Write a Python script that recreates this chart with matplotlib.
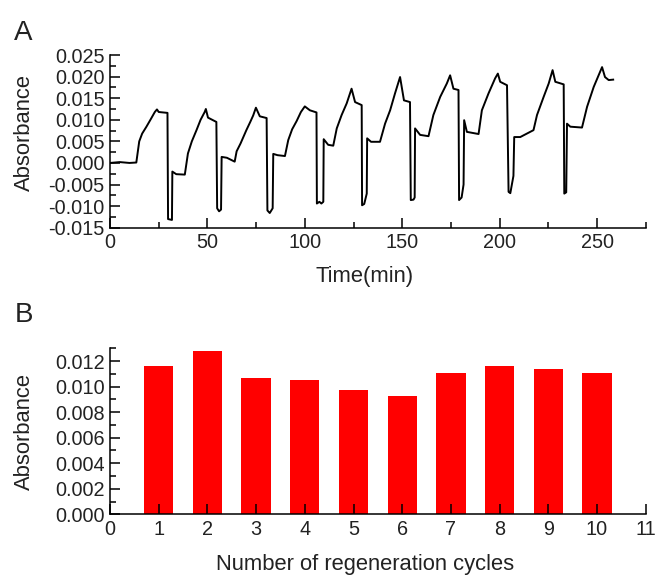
import matplotlib
matplotlib.use("Agg")
import matplotlib.pyplot as plt
from matplotlib.ticker import MultipleLocator, FormatStrFormatter

plt.rcParams['font.family'] = ['Liberation Sans', 'DejaVu Sans']

# Panel A: absorbance trace over time (min)
time_min = [0, 5, 10, 13.5,
            15, 16.5, 18.7, 21, 23, 24.1, 25, 29.5,
            29.8, 31.8, 32, 34, 38.4,
            40, 42, 44.4, 46.5, 48.6, 49.2, 50.3, 54.6,
            55, 56, 57, 57.3, 60, 64,
            65, 67, 70, 72, 73.5, 74.9, 76.9, 80.4,
            80.8, 82, 83.5, 83.8, 86, 89.8,
            91.5, 93.5, 95.8, 98, 100, 102.6, 106,
            106.2, 107.5, 108.5, 109.5, 109.7, 112, 114.6,
            116.4, 118.9, 121.5, 124, 125.8, 129.2,
            129.4, 130.5, 131.8, 132, 134, 138.6,
            141.2, 143.8, 146.3, 148.9, 150.9, 154,
            154.4, 155.8, 156.4, 156.6, 159.2, 163.5,
            166, 169.5, 172.9, 174.6, 176.3, 178.9,
            179.2, 180.5, 181.5, 181.8, 183.2, 189.2,
            190.9, 194.3, 197.7, 199.1, 200.3, 203.8,
            204.6, 205.5, 207.1, 207.5, 210.6, 215.7, 217.4,
            219.2, 222.6, 225.2, 227.2, 228.6, 232.9,
            233.2, 234.2, 234.6, 236.3, 242.3,
            244.9, 248.3, 252.6, 254.1, 256, 258.3]
absorbance_a = [0, 0.0002, 0, 0.0001,
                0.005, 0.0068, 0.0084, 0.0102, 0.0118, 0.0124, 0.0118, 0.0116,
                -0.0130, -0.0132, -0.0020, -0.0026, -0.0027,
                0.0022, 0.0050, 0.0076, 0.0100, 0.0118, 0.0125, 0.0105, 0.0095,
                -0.0105, -0.0112, -0.0108, 0.0014, 0.0012, 0.0003,
                0.0027, 0.0045, 0.0076, 0.0095, 0.0110, 0.0128, 0.0108, 0.0104,
                -0.0110, -0.0116, -0.0105, 0.0021, 0.0018, 0.0016,
                0.0053, 0.0078, 0.0097, 0.0118, 0.0131, 0.0122, 0.0117,
                -0.0094, -0.0090, -0.0094, -0.0090, 0.0055, 0.0042, 0.0040,
                0.0080, 0.0111, 0.0138, 0.0172, 0.0141, 0.0134,
                -0.0098, -0.0095, -0.0071, 0.0057, 0.0049, 0.0049,
                0.0091, 0.0122, 0.0161, 0.0199, 0.0145, 0.0141,
                -0.0086, -0.0085, -0.0080, 0.0080, 0.0065, 0.0062,
                0.0111, 0.0153, 0.0184, 0.0203, 0.0172, 0.0169,
                -0.0086, -0.0080, -0.0050, 0.0099, 0.0072, 0.0067,
                0.0122, 0.0161, 0.0196, 0.0207, 0.0188, 0.0180,
                -0.0067, -0.0070, -0.0030, 0.0060, 0.0060, 0.0072, 0.0076,
                0.0111, 0.0153, 0.0184, 0.0215, 0.0188, 0.0182,
                -0.0071, -0.0068, 0.0091, 0.0084, 0.0082,
                0.0130, 0.0176, 0.0222, 0.0199, 0.0192, 0.0193]

# Panel B: absorbance per regeneration cycle
cycles = [1, 2, 3, 4, 5, 6, 7, 8, 9, 10]
absorbance_b = [0.0116, 0.0128, 0.0107, 0.0105, 0.0097, 0.0093, 0.0111, 0.0116, 0.0114, 0.0111]

fig = plt.figure(figsize=(6.56, 5.75), dpi=100)
axA = fig.add_axes([0.1677, 0.604, 0.8166, 0.3003])
axB = fig.add_axes([0.1677, 0.1056, 0.8166, 0.2887])

tick_fs = 14.3
label_fs = 15.8

for ax in (axA, axB):
    for s in ('top', 'right'):
        ax.spines[s].set_visible(False)
    for s in ('left', 'bottom'):
        ax.spines[s].set_linewidth(1.1)
    ax.tick_params(which='both', direction='in', width=1.1, labelsize=tick_fs,
                   labelcolor='#222222')
    ax.tick_params(which='major', length=7, pad=4)
    ax.tick_params(which='minor', length=4.5)

# Panel A
axA.plot(time_min, absorbance_a, color='black', lw=1.4)
axA.set_xlim(0, 275)
axA.set_ylim(-0.015, 0.025)
axA.xaxis.set_major_locator(MultipleLocator(50))
axA.xaxis.set_minor_locator(MultipleLocator(25))
axA.yaxis.set_major_locator(MultipleLocator(0.005))
axA.yaxis.set_minor_locator(MultipleLocator(0.0025))
axA.yaxis.set_major_formatter(FormatStrFormatter('%.3f'))
axA.set_xlabel('Time(min)', fontsize=label_fs, color='#222222')
axA.set_ylabel('Absorbance', fontsize=label_fs, color='#222222')
axA.xaxis.set_label_coords(0.476, -0.285)
axA.yaxis.set_label_coords(-0.159, 0.551)
axA.xaxis.label.set_va('center')
axA.yaxis.label.set_va('center')

# Panel B
axB.bar(cycles, absorbance_b, width=0.6, color='#ff0000', edgecolor='none')
axB.set_xlim(0, 11)
axB.set_ylim(0, 0.013)
axB.xaxis.set_major_locator(MultipleLocator(1))
axB.yaxis.set_major_locator(MultipleLocator(0.002))
axB.yaxis.set_minor_locator(MultipleLocator(0.001))
axB.yaxis.set_major_formatter(FormatStrFormatter('%.3f'))
axB.set_xlabel('Number of regeneration cycles', fontsize=label_fs, color='#222222')
axB.set_ylabel('Absorbance', fontsize=label_fs, color='#222222')
axB.xaxis.set_label_coords(0.476, -0.305)
axB.yaxis.set_label_coords(-0.159, 0.50)
axB.xaxis.label.set_va('center')
axB.yaxis.label.set_va('center')

fig.text(0.022, 0.965, 'A', fontsize=20, va='top', ha='left', color='#222222')
fig.text(0.022, 0.475, 'B', fontsize=20, va='top', ha='left', color='#222222')

fig.savefig('out.png', dpi=100)
